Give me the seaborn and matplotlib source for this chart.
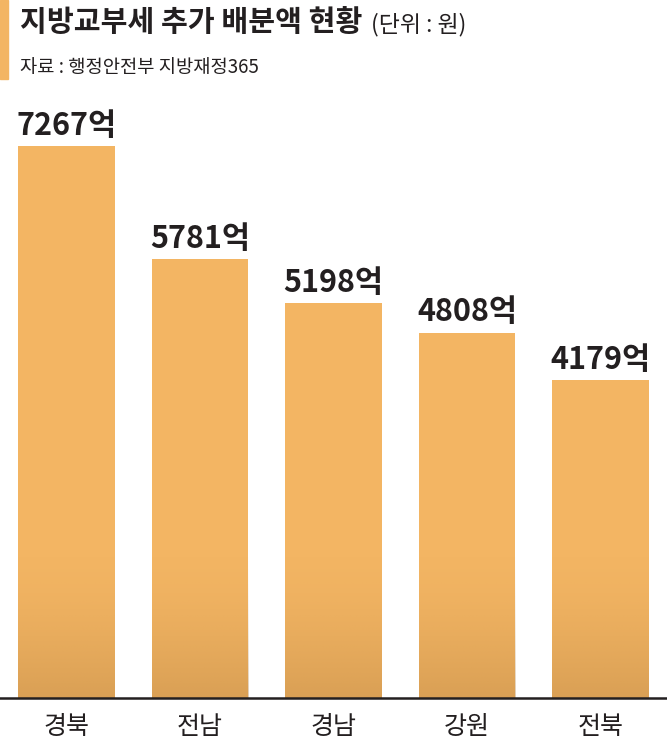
import matplotlib
matplotlib.use("Agg")
import matplotlib.pyplot as plt
import seaborn as sns
import numpy as np
import pandas as pd
from matplotlib.patches import Rectangle

regions = ["경북", "전남", "경남", "강원", "전북"]
values = [7267, 5781, 5198, 4808, 4179]
unit_suffix = "억"
title_main = "지방교부세 추가 배분액 현황"
title_unit = "(단위 : 원)"
source_text = "자료 : 행정안전부 지방재정365"

sns.set_theme(style="white")
plt.rcParams['font.family'] = ['Noto Sans CJK KR', 'DejaVu Sans']

BAR = "#F3B563"
DARK = "#B07D3E"

df = pd.DataFrame({"region": regions, "value": values})

fig = plt.figure(figsize=(6.67, 7.5), dpi=100)
W, H = 667, 750
base_px = 697.5
top_px = 100
ax = fig.add_axes([0, 1 - base_px / H, 1, (base_px - top_px) / H])

sns.barplot(data=df, x="region", y="value", color=BAR, width=0.725,
            saturation=1, ax=ax, edgecolor="none")

px_per_unit = (base_px - 146) / 7267.0
ymax = (base_px - top_px) / px_per_unit
ax.set_ylim(0, ymax)
ax.set_xlim(-0.5, 4.5)

# bottom gradient shading
grad_units = 150 / px_per_unit
n = 256
alpha = np.linspace(0, 0.55, n) ** 1.6
rgba = np.zeros((n, 1, 4))
c = matplotlib.colors.to_rgb(DARK)
rgba[:, 0, 0] = c[0]
rgba[:, 0, 1] = c[1]
rgba[:, 0, 2] = c[2]
rgba[:, 0, 3] = alpha
for p in ax.patches:
    x0 = p.get_x()
    w = p.get_width()
    im = ax.imshow(rgba, extent=[x0, x0 + w, 0, grad_units], origin="upper",
                   aspect="auto", zorder=p.get_zorder() + 0.1, interpolation="bilinear")
    im.set_clip_path(p)
ax.set_xlim(-0.5, 4.5)
ax.set_ylim(0, ymax)

for i, v in enumerate(values):
    ax.annotate(f"{v}{unit_suffix}", (i, v), xytext=(0, 3), textcoords="offset points",
                ha="center", va="bottom", fontsize=22, fontweight="heavy", color="#231f20")

ax.set_xlabel("")
ax.set_ylabel("")
ax.set_yticks([])
ax.tick_params(axis="x", length=0, labelsize=18, colors="#231f20", pad=12)
for s in ["top", "right", "left"]:
    ax.spines[s].set_visible(False)
ax.spines["bottom"].set_color("#231f20")
ax.spines["bottom"].set_linewidth(1.8)

# title block
fig.patches.append(Rectangle((0, 1 - 79 / H), 8 / W, 79 / H, transform=fig.transFigure,
                             color=BAR, zorder=5))
t = fig.text(20 / W, 1 - 31 / H, title_main, fontsize=21, fontweight="heavy",
             color="#231f20", ha="left", va="baseline")
fig.canvas.draw()
bb = t.get_window_extent()
fig.text((bb.x1 + 9) / W, 1 - 31 / H, title_unit, fontsize=16.5, color="#231f20",
         ha="left", va="baseline")
fig.text(20 / W, 1 - 73 / H, source_text, fontsize=13.5, color="#231f20",
         ha="left", va="baseline")

fig.savefig("out.png", dpi=100)
